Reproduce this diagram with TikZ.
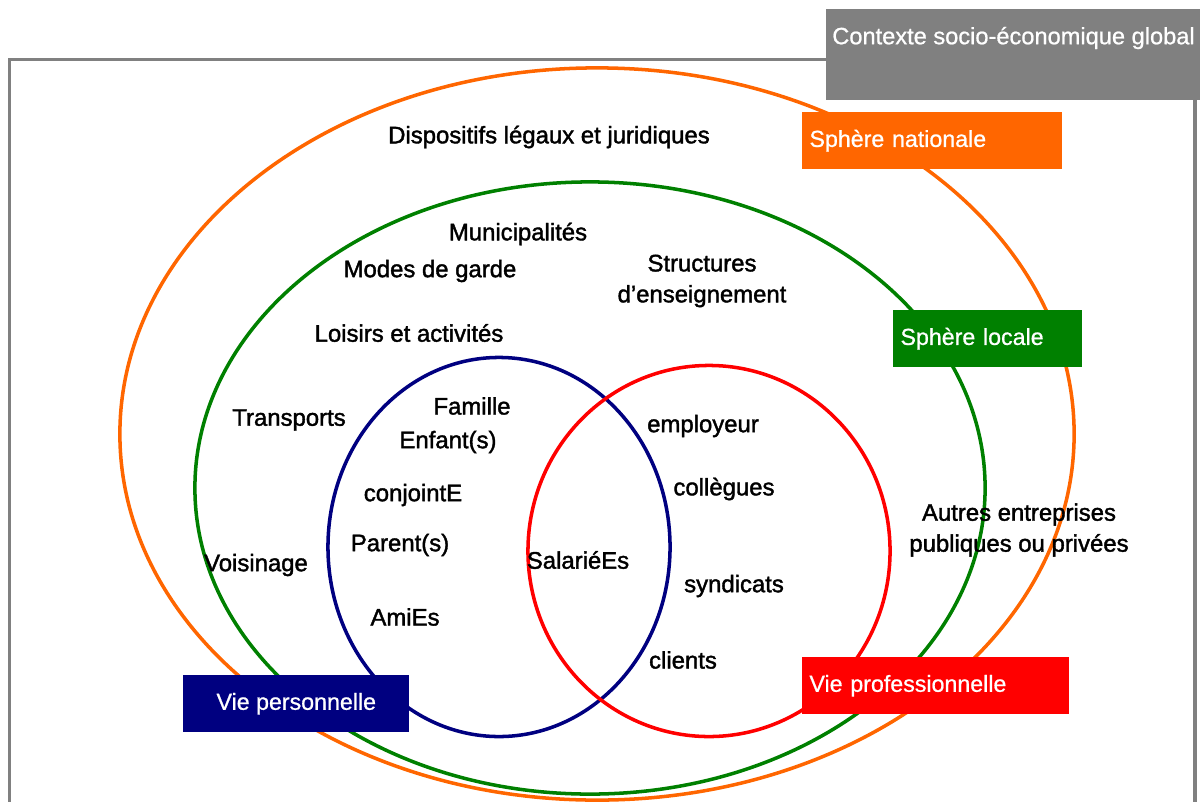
\documentclass[tikz,border=0pt]{standalone}
\usepackage{fontspec}
\setmainfont{Liberation Sans}
\newfontfamily\heavy[FakeBold=1.6]{Liberation Sans}
\newfontfamily\semi[FakeBold=0.8]{Liberation Sans}
\usetikzlibrary{shapes.geometric}
\definecolor{orangeC}{HTML}{FF6600}
\definecolor{greenC}{HTML}{008000}
\definecolor{navyC}{HTML}{000080}
\definecolor{redC}{HTML}{FF0000}
\definecolor{grayC}{HTML}{808080}
\tikzset{
  ring/.style={ellipse, draw, line width=2.5pt, inner sep=0pt},
  lbl/.style={font=\heavy\fontsize{17}{22}\selectfont, text=black, inner sep=0pt, align=center},
  tag/.style={rectangle, inner xsep=0.18cm, inner ysep=0pt, text=white, font=\semi\fontsize{16.5}{20}\selectfont, anchor=north west},
}
\begin{document}
\begin{tikzpicture}[x=0.025cm,y=-0.025cm]
\useasboundingbox (0,0) rectangle (1200,801);
% frame
\draw[grayC, line width=2.2pt] (9.5,830) -- (9.5,59.5) -- (1195,59.5) -- (1195,830);
% ellipses
\node[ring, draw=orangeC, minimum width=23.85cm, minimum height=18.3cm] (nat) at (597,434) {};
\node[ring, draw=greenC, minimum width=19.75cm, minimum height=15.3cm] (loc) at (590,488) {};
\node[ring, draw=navyC, minimum width=8.55cm, minimum height=9.475cm] (pers) at (499,547) {};
\node[ring, draw=redC, minimum width=9.05cm, minimum height=9.275cm] (pro) at (709,551) {};
% tags
\node[tag, fill=grayC, minimum width=9.6cm, minimum height=2.275cm] (ctx) at (826,9) {};
\node[anchor=west, text=white, inner sep=0pt, font=\semi\fontsize{16.8}{20}\selectfont] (ctxlabel) at (832,38) {Contexte socio-économique global};
\node[tag, fill=orangeC, minimum width=6.5cm, minimum height=1.425cm, text width=6.14cm, align=left] (natlabel) at (802,112) {Sphère nationale};
\node[tag, fill=greenC, minimum width=4.725cm, minimum height=1.425cm, text width=4.365cm, align=left] (loclabel) at (893,310) {Sphère locale};
\node[tag, fill=navyC, minimum width=5.65cm, minimum height=1.425cm, align=center] (perslabel) at (183,675) {Vie personnelle};
\node[tag, fill=redC, minimum width=6.675cm, minimum height=1.425cm, text width=6.315cm, align=left] (prolabel) at (802,657) {Vie professionnelle};
% labels
\node[lbl] (disp) at (549,137) {Dispositifs légaux et juridiques};
\node[lbl] (muni) at (518,234) {Municipalités};
\node[lbl] (modes) at (430,271) {Modes de garde};
\node[lbl] (struct) at (702,281) {Structures\\d’enseignement};
\node[lbl] (loisirs) at (409,333) {Loisirs et activités};
\node[lbl] (transp) at (289,420) {Transports};
\node[lbl] (famille) at (472,406) {Famille};
\node[lbl] (enfant) at (448,442) {Enfant(s)};
\node[lbl] (conj) at (413,495) {conjointE};
\node[lbl] (parent) at (400,545) {Parent(s)};
\node[lbl] (amies) at (405,617) {AmiEs};
\node[lbl] (voisin) at (256,565) {Voisinage};
\node[lbl] (sal) at (578,560) {SalariéEs};
\node[lbl] (empl) at (703,426) {employeur};
\node[lbl] (coll) at (724,489) {collègues};
\node[lbl] (synd) at (734,586) {syndicats};
\node[lbl] (cli) at (683,660) {clients};
\node[lbl] (autres) at (1019,530) {Autres entreprises\\publiques ou privées};
\end{tikzpicture}
\end{document}
